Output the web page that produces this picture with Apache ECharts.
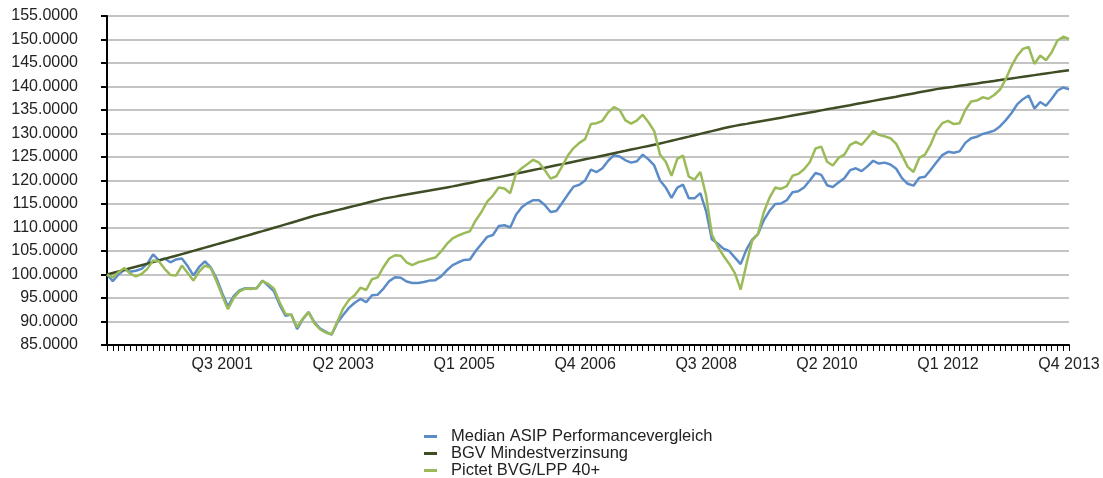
<!DOCTYPE html>
<html>
<head>
<meta charset="utf-8">
<script src="https://cdn.jsdelivr.net/npm/echarts@6/dist/echarts.min.js"></script>
<style>html,body{margin:0;padding:0;background:#fff}#c{width:1103px;height:478px}</style>
</head>
<body>
<div id="c"></div>
<script>
// Monthly observations, Jan 2000 .. Dec 2013
const startYear = 2000;
const monthCount = 168;
const seriesNames = ['Median ASIP Performancevergleich', 'BGV Mindestverzinsung', 'Pictet BVG/LPP 40+'];
const seriesColors = ['#5b8cc8', '#3e4d24', '#9bbb59'];
const yTicks = [85, 155, 5];

const medianASIP = [
100.0,98.6,100.0,101.0,100.6,100.8,101.2,102.3,104.3,103.0,103.4,102.6,
103.2,103.4,101.8,99.8,101.6,102.8,101.5,99.2,96.0,93.2,95.4,96.6,
97.1,97.0,97.1,98.7,97.6,96.4,93.5,91.2,91.5,88.4,90.5,92.0,
89.8,88.5,87.8,87.2,89.8,91.4,92.9,94.0,94.8,94.1,95.6,95.7,
97.0,98.6,99.4,99.3,98.5,98.2,98.2,98.4,98.7,98.8,99.6,100.9,
102.0,102.6,103.1,103.2,105.0,106.5,108.0,108.4,110.3,110.5,110.0,112.7,
114.3,115.2,115.8,115.8,114.8,113.3,113.5,115.2,117.0,118.7,119.1,120.0,
122.3,121.8,122.6,124.2,125.4,125.1,124.3,123.8,124.1,125.5,124.5,123.2,
120.0,118.5,116.3,118.5,119.1,116.2,116.2,117.3,113.5,107.5,106.6,105.5,
105.0,103.6,102.2,105.3,107.4,108.6,111.5,113.5,115.0,115.1,115.8,117.5,
117.7,118.5,120.0,121.6,121.2,119.0,118.6,119.6,120.5,122.2,122.6,122.0,
123.0,124.2,123.6,123.8,123.4,122.5,120.5,119.3,118.9,120.6,120.8,122.3,
123.9,125.4,126.1,125.9,126.2,128.0,129.0,129.3,129.9,130.2,130.6,131.5,
132.8,134.3,136.2,137.3,138.1,135.3,136.7,135.9,137.4,139.1,139.8,139.4
];

const bgvMinimum = [
100.00,100.33,100.66,100.99,101.32,101.65,101.98,102.31,102.65,102.98,103.32,103.66,
104.00,104.34,104.68,105.03,105.37,105.72,106.06,106.41,106.76,107.11,107.46,107.81,
108.16,108.51,108.87,109.22,109.58,109.94,110.30,110.66,111.02,111.38,111.75,112.12,
112.49,112.79,113.09,113.39,113.69,113.99,114.30,114.60,114.91,115.21,115.52,115.83,
116.14,116.36,116.57,116.79,117.00,117.22,117.44,117.66,117.87,118.09,118.31,118.53,
118.75,118.99,119.24,119.48,119.73,119.98,120.22,120.47,120.72,120.97,121.22,121.47,
121.72,121.97,122.22,122.47,122.72,122.98,123.23,123.48,123.74,124.00,124.25,124.51,
124.76,125.02,125.28,125.54,125.80,126.05,126.31,126.58,126.84,127.10,127.36,127.62,
127.88,128.17,128.46,128.75,129.04,129.33,129.63,129.92,130.21,130.51,130.80,131.10,
131.40,131.62,131.84,132.05,132.27,132.49,132.71,132.93,133.15,133.37,133.59,133.81,
134.03,134.25,134.47,134.69,134.92,135.14,135.36,135.59,135.81,136.03,136.26,136.48,
136.71,136.94,137.16,137.39,137.62,137.84,138.07,138.30,138.53,138.76,138.99,139.22,
139.44,139.62,139.79,139.96,140.14,140.31,140.49,140.66,140.84,141.01,141.19,141.36,
141.54,141.71,141.89,142.06,142.24,142.42,142.59,142.77,142.95,143.12,143.30,143.48
];

const pictet40 = [
100.0,99.4,100.5,101.4,100.2,99.6,100.1,101.2,103.0,102.8,101.2,99.9,
99.8,101.9,100.3,98.7,100.6,101.9,101.4,98.6,95.5,92.6,95.0,96.4,
97.0,96.9,97.1,98.6,98.0,97.0,94.0,91.6,91.4,88.8,90.6,92.0,
89.6,88.3,87.6,87.3,90.0,92.8,94.6,95.6,97.2,96.7,99.0,99.4,
101.6,103.4,104.1,104.0,102.6,102.0,102.6,102.9,103.3,103.6,104.9,106.5,
107.7,108.3,108.8,109.2,111.5,113.3,115.5,116.8,118.5,118.3,117.3,121.5,
122.6,123.5,124.4,123.8,122.2,120.4,120.9,123.0,125.3,126.9,128.0,128.8,
132.0,132.2,132.7,134.5,135.6,135.0,132.8,132.1,132.8,134.0,132.4,130.5,
125.5,124.0,121.0,124.6,125.3,120.8,120.2,121.8,116.8,108.5,106.0,104.0,
102.3,100.3,96.8,102.2,107.2,108.6,113.2,116.3,118.5,118.2,118.8,121.0,
121.4,122.4,123.9,126.8,127.2,124.0,123.2,124.8,125.5,127.6,128.2,127.6,
129.0,130.5,129.7,129.4,129.0,127.8,125.4,122.9,121.8,124.8,125.5,127.7,
130.6,132.2,132.7,132.0,132.2,135.0,136.8,137.0,137.7,137.4,138.2,139.3,
141.5,144.3,146.5,148.0,148.4,144.8,146.6,145.6,147.3,149.8,150.6,150.1
];

const categories = [];
for (let i = 0; i < monthCount; i++) {
  const y = startYear + Math.floor(i / 12);
  const q = Math.floor((i % 12) / 3) + 1;
  categories.push('Q' + q + ' ' + y);
}

const FONT = 'Liberation Sans, Arial, sans-serif';
const chart = echarts.init(document.getElementById('c'));
const mk = (name, data, color) => ({
  name: name, type: 'line', data: data, symbol: 'none', showSymbol: false,
  lineStyle: { color: color, width: 2.5 }, itemStyle: { color: color },
  animation: false
});
chart.setOption({
  backgroundColor: '#fff',
  animation: false,
  grid: { left: 107, right: 34, top: 16, bottom: 133, containLabel: false },
  legend: {
    orient: 'vertical', left: 424, top: 428, itemGap: 0, padding: 0, height: 60,
    itemWidth: 13, itemHeight: 3, icon: 'rect',
    textStyle: { fontFamily: FONT, fontSize: 16.5, color: '#222', lineHeight: 16, padding: [0, 0, 0, 9] },
    data: seriesNames.map((n, i) => ({ name: n, itemStyle: { color: seriesColors[i] } }))
  },
  xAxis: {
    type: 'category', data: categories, boundaryGap: false,
    axisLine: { show: true, lineStyle: { color: '#000', width: 2 } },
    axisTick: { show: true, interval: 0, length: 6, lineStyle: { color: '#000', width: 1 } },
    axisLabel: {
      interval: (idx) => idx % 21 === 20,
      fontFamily: FONT, fontSize: 16, color: '#222', margin: 12
    },
    splitLine: { show: false }
  },
  yAxis: {
    type: 'value', min: yTicks[0], max: yTicks[1], interval: yTicks[2],
    axisLine: { show: true, lineStyle: { color: '#000', width: 2 } },
    axisTick: { show: true, length: 6, lineStyle: { color: '#000', width: 2 } },
    axisLabel: { formatter: v => v.toFixed(4), fontFamily: FONT, fontSize: 16, color: '#222', margin: 29 },
    splitLine: { show: true, lineStyle: { color: '#c4c4c4', width: 2 } }
  },
  series: [
    mk(seriesNames[0], medianASIP, seriesColors[0]),
    mk(seriesNames[1], bgvMinimum, seriesColors[1]),
    mk(seriesNames[2], pictet40, seriesColors[2])
  ]
});
</script>
</body>
</html>
